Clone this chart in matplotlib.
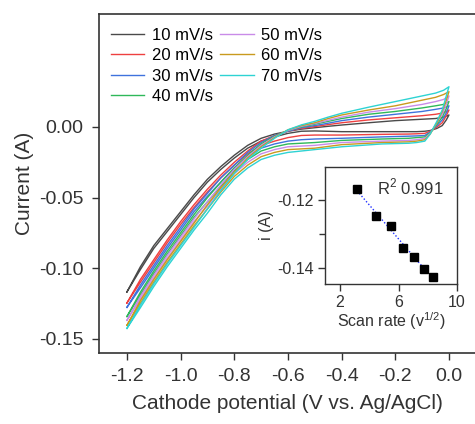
import matplotlib
matplotlib.use("Agg")
import matplotlib.pyplot as plt
import numpy as np

plt.rcParams["font.family"] = ["Liberation Sans", "DejaVu Sans"]
plt.rcParams["mathtext.fontset"] = "custom"
plt.rcParams["mathtext.rm"] = "Liberation Sans"

LABELS = ["10 mV/s", "20 mV/s", "30 mV/s", "40 mV/s", "50 mV/s", "60 mV/s", "70 mV/s"]
COLORS = ["#4a4a4a", "#ee4040", "#3f72dd", "#2fb85a", "#c98be8", "#c99a1e", "#2ed3d3"]

# anodic sweep (-1.2 -> 0 V), upper branch
UP_X = [-1.2, -1.15, -1.1, -1.05, -1.0, -0.95, -0.9, -0.85, -0.8, -0.75, -0.7, -0.65,
        -0.6, -0.55, -0.5, -0.45, -0.4, -0.3, -0.2, -0.1, -0.05, -0.02, 0.0]
UP_I = [
    [-0.1168, -0.099, -0.084, -0.072, -0.060, -0.048, -0.037, -0.028, -0.020, -0.013, -0.008, -0.005,
     -0.003, -0.0015, -0.0005, 0.0005, 0.0014, 0.003, 0.0045, 0.0055, 0.006, 0.007, 0.0085],
    [-0.1246, -0.108, -0.094, -0.080, -0.067, -0.055, -0.044, -0.034, -0.025, -0.017, -0.010, -0.006,
     -0.003, -0.001, 0.0003, 0.0017, 0.003, 0.005, 0.0065, 0.008, 0.009, 0.010, 0.012],
    [-0.1277, -0.112, -0.098, -0.084, -0.071, -0.058, -0.047, -0.036, -0.027, -0.018, -0.011, -0.006,
     -0.003, -0.0005, 0.001, 0.0027, 0.0045, 0.007, 0.009, 0.011, 0.0125, 0.0135, 0.015],
    [-0.1342, -0.117, -0.102, -0.088, -0.075, -0.062, -0.050, -0.039, -0.029, -0.020, -0.012, -0.0065,
     -0.0025, 0.0, 0.002, 0.004, 0.006, 0.009, 0.011, 0.0135, 0.015, 0.016, 0.018],
    [-0.1369, -0.120, -0.105, -0.091, -0.078, -0.065, -0.053, -0.041, -0.030, -0.021, -0.013, -0.007,
     -0.0025, 0.0005, 0.0025, 0.0048, 0.007, 0.0105, 0.013, 0.016, 0.018, 0.0195, 0.022],
    [-0.1404, -0.123, -0.108, -0.094, -0.081, -0.068, -0.055, -0.043, -0.032, -0.022, -0.014, -0.0075,
     -0.002, 0.001, 0.003, 0.006, 0.0085, 0.012, 0.015, 0.019, 0.021, 0.023, 0.025],
    [-0.1426, -0.126, -0.111, -0.097, -0.084, -0.071, -0.058, -0.045, -0.033, -0.023, -0.015, -0.008,
     -0.002, 0.0015, 0.004, 0.007, 0.0097, 0.014, 0.018, 0.022, 0.024, 0.026, 0.0285],
]

# cathodic sweep (0 -> -1.2 V), lower branch
LO_X = [0.0, -0.01, -0.025, -0.045, -0.07, -0.09, -0.12, -0.15, -0.25, -0.4, -0.5, -0.55, -0.6,
        -0.65, -0.7, -0.75, -0.8, -0.85, -0.9, -0.95, -1.0, -1.05, -1.1, -1.15, -1.2]
LO_I = [
    [0.0085, 0.005, 0.001, -0.001, -0.0025, -0.003, -0.0033, -0.0033, -0.0033, -0.0033, -0.0028, -0.003, -0.0045,
     -0.007, -0.010, -0.015, -0.022, -0.030, -0.039, -0.050, -0.062, -0.074, -0.086, -0.101, -0.1168],
    [0.012, 0.008, 0.003, 0.0, -0.003, -0.0045, -0.0048, -0.005, -0.0052, -0.0057, -0.0057, -0.006, -0.0075,
     -0.010, -0.013, -0.019, -0.027, -0.036, -0.046, -0.057, -0.069, -0.082, -0.096, -0.110, -0.1246],
    [0.015, 0.010, 0.005, 0.001, -0.0035, -0.006, -0.0063, -0.0065, -0.007, -0.008, -0.0085, -0.009, -0.010,
     -0.012, -0.015, -0.021, -0.029, -0.039, -0.049, -0.060, -0.073, -0.086, -0.100, -0.114, -0.1277],
    [0.018, 0.013, 0.007, 0.002, -0.004, -0.007, -0.0075, -0.008, -0.0085, -0.0095, -0.011, -0.0115, -0.012,
     -0.014, -0.017, -0.023, -0.031, -0.042, -0.053, -0.064, -0.077, -0.090, -0.104, -0.119, -0.1342],
    [0.022, 0.016, 0.009, 0.003, -0.0045, -0.008, -0.009, -0.0095, -0.010, -0.011, -0.013, -0.0135, -0.014,
     -0.016, -0.019, -0.025, -0.033, -0.044, -0.056, -0.067, -0.080, -0.093, -0.107, -0.122, -0.1369],
    [0.025, 0.019, 0.011, 0.003, -0.005, -0.009, -0.010, -0.0105, -0.011, -0.0125, -0.015, -0.0155, -0.016,
     -0.018, -0.021, -0.027, -0.035, -0.046, -0.058, -0.070, -0.083, -0.096, -0.110, -0.125, -0.1404],
    [0.0285, 0.022, 0.012, 0.004, -0.005, -0.010, -0.011, -0.0115, -0.012, -0.014, -0.016, -0.017, -0.018,
     -0.020, -0.023, -0.029, -0.037, -0.048, -0.061, -0.073, -0.086, -0.099, -0.113, -0.128, -0.1426],
]

# inset: peak current vs square root of scan rate
SQRT_RATE = [3.16, 4.47, 5.48, 6.32, 7.07, 7.75, 8.37]
PEAK_I = [-0.1168, -0.1246, -0.1277, -0.1342, -0.1369, -0.1404, -0.1426]

W, H = 475, 424
fig = plt.figure(figsize=(W / 100, H / 100), dpi=100)
ax = fig.add_axes([99 / W, 1 - 353 / H, 1 - 99 / W, (353 - 14) / H])

for label, color, up, lo in zip(LABELS, COLORS, UP_I, LO_I):
    ax.plot(UP_X + LO_X, up + lo, color=color, lw=1.0, label=label)

ax.set_xlim(-1.304, 0.097)
ax.set_ylim(-0.160, 0.080)
ax.set_xticks([-1.2, -1.0, -0.8, -0.6, -0.4, -0.2, 0.0])
ax.set_yticks([0.0, -0.05, -0.10, -0.15])
ax.set_xticklabels(["-1.2", "-1.0", "-0.8", "-0.6", "-0.4", "-0.2", "0.0"])
ax.set_yticklabels(["0.00", "-0.05", "-0.10", "-0.15"])
ax.spines["right"].set_visible(False)
for s in ["left", "top", "bottom"]:
    ax.spines[s].set_color("#333333")
    ax.spines[s].set_linewidth(1.2)
ax.tick_params(direction="out", length=5, width=1, labelsize=14, pad=6, colors="#333333")
ax.set_xlabel("Cathode potential (V vs. Ag/AgCl)", fontsize=15, color="#333333", labelpad=6)
ax.set_ylabel("Current (A)", fontsize=15, color="#333333", labelpad=4)

ax.legend(
    ncol=2, frameon=False, fontsize=12, loc="upper left",
    bbox_to_anchor=(111 / W, 1 - 28 / H), bbox_transform=fig.transFigure,
    borderpad=0, borderaxespad=0, handlelength=2.0, handletextpad=0.45,
    columnspacing=0.45, labelspacing=0.32,
)

# inset
axi = fig.add_axes([325 / W, 1 - 284 / H, 132 / W, 117 / H])
fit = np.polyfit(SQRT_RATE, PEAK_I, 1)
fx = np.array([SQRT_RATE[0], SQRT_RATE[-1]])
axi.plot(fx, np.polyval(fit, fx), color="#2030ff", lw=1.0, ls=(0, (1, 1.5)))
axi.plot(SQRT_RATE, PEAK_I, "s", color="black", ms=5.5)
axi.set_xlim(0.97, 10)
axi.set_ylim(-0.1447, -0.1103)
axi.set_xticks([2, 6, 10])
axi.set_yticks([-0.12, -0.14])
axi.set_yticks([-0.13], minor=True)
axi.set_yticklabels(["-0.12", "-0.14"])
axi.tick_params(direction="out", length=5, width=1, labelsize=11.5, pad=3, colors="#333333")
axi.tick_params(which="minor", direction="out", length=4, width=1, colors="#333333")
for s in axi.spines.values():
    s.set_color("#333333")
    s.set_linewidth(1.0)
axi.set_xlabel("Scan rate (v$^{1/2}$)", fontsize=11.5, color="#333333", labelpad=0)
axi.set_ylabel("i (A)", fontsize=11.5, color="#333333", labelpad=2)
axi.text(4.5, -0.1162, "R$^2$ 0.991", fontsize=12, color="#333333", va="center", ha="left")

fig.savefig("out.png", dpi=100)
